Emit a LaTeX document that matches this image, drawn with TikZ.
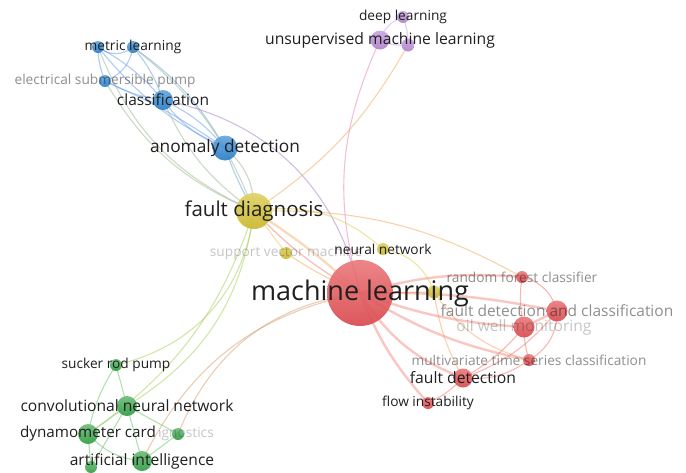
\documentclass[tikz,border=0pt]{standalone}
\usepackage{fontspec}
\setmainfont{Open Sans}
\pgfdeclarelayer{links}
\pgfsetlayers{links,main}
% cluster colours
\definecolor{vred}{RGB}{228,78,82}
\definecolor{vyel}{RGB}{212,193,48}
\definecolor{vblue}{RGB}{42,132,210}
\definecolor{vgreen}{RGB}{52,164,70}
\definecolor{vpurp}{RGB}{184,138,214}
% link colours (within and between clusters)
\definecolor{eRR}{RGB}{240,112,102}
\definecolor{eYY}{RGB}{222,204,70}
\definecolor{eBB}{RGB}{95,155,232}
\definecolor{eGG}{RGB}{100,195,100}
\definecolor{ePP}{RGB}{205,155,232}
\definecolor{eBY}{RGB}{150,182,140}
\definecolor{eRY}{RGB}{240,165,85}
\definecolor{eRP}{RGB}{240,125,185}
\definecolor{eRG}{RGB}{212,155,105}
\definecolor{eYG}{RGB}{165,205,85}
\definecolor{eBR}{RGB}{165,125,195}
\tikzset{
  ball/.style={circle,inner sep=0pt,draw=none,fill opacity=0.92},
  kred/.style={ball,top color=vred!75!white,bottom color=vred!95!black},
  kyel/.style={ball,top color=vyel!75!white,bottom color=vyel!95!black},
  kblue/.style={ball,top color=vblue!72!white,bottom color=vblue!95!black},
  kgreen/.style={ball,top color=vgreen!72!white,bottom color=vgreen!95!black},
  kpurp/.style={ball,top color=vpurp!75!white,bottom color=vpurp!95!black},
  fs/.style={font=\fontsize{#1}{#1}\selectfont},
  lab/.style={inner sep=0pt,text=black!88},
  dim/.style={lab,text opacity=0.5},
  faint/.style={lab,text opacity=0.26},
  link/.style={line width=1.1pt,draw opacity=0.5},
  heavy/.style={line width=2.4pt,draw opacity=0.4},
}
\begin{document}
\begin{tikzpicture}[x=1pt,y=-1pt]
\useasboundingbox (0,0) rectangle (686,472);

% ---- keyword circles ----
\node[kred,minimum size=66pt]  (ml)  at (360,293) {};
\node[kyel,minimum size=36pt]  (fd)  at (254,211) {};
\node[kblue,minimum size=25pt] (ad)  at (225,148) {};
\node[kblue,minimum size=20pt] (cl)  at (163,100) {};
\node[kblue,minimum size=12pt] (mr)  at (133,47) {};
\node[kblue,minimum size=12pt] (mlL) at (98,47) {};
\node[kblue,minimum size=12pt] (esp) at (105,81) {};
\node[kpurp,minimum size=19pt] (un)  at (380,40) {};
\node[kpurp,minimum size=12pt] (dl)  at (403,17) {};
\node[kpurp,minimum size=13pt] (p2)  at (408,45) {};
\node[kyel,minimum size=12pt]  (svm) at (286,253) {};
\node[kyel,minimum size=12pt]  (nn)  at (383,249) {};
\node[kyel,minimum size=13pt]  (yy)  at (434,292) {};
\node[kred,minimum size=12pt]  (rf)  at (522,277) {};
\node[kred,minimum size=21pt]  (fdc) at (557,311) {};
\node[kred,minimum size=21pt]  (ow)  at (524,327) {};
\node[kred,minimum size=12pt]  (mts) at (529,360) {};
\node[kred,minimum size=19pt]  (fdt) at (463,378) {};
\node[kred,minimum size=12pt]  (fi)  at (428,403) {};
\node[kgreen,minimum size=12pt] (srp) at (116,365) {};
\node[kgreen,minimum size=20pt] (cnn) at (127,406) {};
\node[kgreen,minimum size=20pt] (dc)  at (88,434) {};
\node[kgreen,minimum size=12pt] (dg)  at (178,434) {};
\node[kgreen,minimum size=20pt] (ai)  at (142,461) {};
\node[kgreen,minimum size=12pt] (g2)  at (91,467) {};

% ---- co-occurrence links ----
\begin{pgfonlayer}{links}
% blue cluster
\draw[link,eBB] (mlL.center) to[bend right=40] (mr.center);
\draw[link,eBB] (mlL.center) to[bend right=10] (esp.center);
\draw[link,eBB] (mlL.center) to[bend left=10] (cl.center);
\draw[link,eBB] (mlL.center) to[bend right=12] (ad.center);
\draw[link,eBB] (mr.center) to[bend left=30] (esp.center);
\draw[link,eBB] (mr.center) to[bend left=10] (cl.center);
\draw[link,eBB] (mr.center) to[bend left=12] (ad.center);
\draw[link,eBB] (esp.center) to[bend right=10] (cl.center);
\draw[link,eBB] (esp.center) to[bend left=5] (ad.center);
\draw[link,eBB] (cl.center) to[bend right=15] (ad.center);
\draw[link,eBB] (cl.center) to[bend left=12] (ad.center);
% blue to yellow
\draw[link,eBB] (ad.center) to[bend right=5] (fd.center);
\draw[link,eBY] (cl.center) to[bend right=15] (fd.center);
\draw[link,eBY] (mlL.center) to[bend right=22] (fd.center);
\draw[link,eBY] (mr.center) to[bend left=15] (fd.center);
\draw[link,eBY] (esp.center) to[bend right=18] (fd.center);
\draw[link,eBY] (ad.center) to[bend left=25] (fd.center);
% blue to red
\draw[link,eBR] (cl.center) to[bend left=33] (ml.center);
% purple cluster
\draw[link,ePP] (dl.center) to[bend right=25] (un.center);
\draw[link,ePP] (un.center) to[bend right=15] (p2.center);
\draw[link,ePP] (dl.center) to[bend left=10] (p2.center);
\draw[link,eRP] (un.center) to[bend right=20] (ml.center);
\draw[link,eRY] (p2.center) to[bend left=13] (fd.center);
% yellow cluster
\draw[heavy,eRY] (fd.center) to[bend left=5] (ml.center);
\draw[link,eRR] (fd.center) to[bend right=8] (ml.center);
\draw[link,eYY] (fd.center) to (svm.center);
\draw[link,eRY] (svm.center) to[bend right=5] (ml.center);
\draw[link,eYY] (fd.center) to[bend left=25] (nn.center);
\draw[link,eYY] (yy.center) to[bend right=30] (nn.center);
\draw[link,eRY] (fd.center) to[bend left=15] (rf.center);
\draw[link,eRY] (yy.center) to (ml.center);
\draw[link,eRY] (yy.center) to[bend right=20] (mts.center);
\draw[link,eRY] (yy.center) to[bend right=10] (fdt.center);
% red cluster
\draw[heavy,eRR] (ml.center) to[bend left=10] (rf.center);
\draw[heavy,eRR] (ml.center) to[bend left=6] (fdc.center);
\draw[heavy,eRR] (ml.center) to[bend right=8] (ow.center);
\draw[heavy,eRR] (ml.center) to[bend right=10] (mts.center);
\draw[heavy,eRR] (ml.center) to[bend right=18] (fdt.center);
\draw[heavy,eRR] (ml.center) to[bend right=10] (fi.center);
\draw[link,eRR] (rf.center) to[bend left=30] (fdc.center);
\draw[link,eRR] (rf.center) to[bend right=10] (ow.center);
\draw[heavy,eRR] (fdc.center) to (ow.center);
\draw[link,eRR] (ow.center) to[bend right=8] (mts.center);
\draw[link,eRR] (fdc.center) to[bend left=30] (mts.center);
\draw[link,eRR] (fdt.center) to[bend right=10] (ow.center);
\draw[link,eRR] (fdt.center) to[bend right=15] (fdc.center);
\draw[link,eRR] (fdt.center) to[bend right=20] (mts.center);
\draw[link,eRR] (fi.center) to[bend right=10] (fdt.center);
% green cluster
\draw[link,eGG] (srp.center) to (cnn.center);
\draw[link,eGG] (srp.center) to[bend right=10] (dc.center);
\draw[link,eGG] (cnn.center) to (dc.center);
\draw[link,eGG] (cnn.center) to (ai.center);
\draw[link,eGG] (cnn.center) to (g2.center);
\draw[link,eGG] (cnn.center) to (dg.center);
\draw[link,eGG] (dc.center) to[bend right=20] (ai.center);
\draw[link,eGG] (dc.center) to (g2.center);
\draw[link,eGG] (ai.center) to (dg.center);
% green to yellow and red
\draw[link,eYG] (fd.center) to[bend left=35] (srp.center);
\draw[link,eYG] (fd.center) to[bend left=25] (cnn.center);
\draw[link,eYG] (fd.center) to[bend left=18] (dc.center);
\draw[link,eRG] (ml.center) to[bend right=30] (dg.center);
\draw[link,eRG] (ml.center) to[bend right=26] (ai.center);
\end{pgfonlayer}

% ---- labels ----
\node[lab,fs=27]   (ml-t)  at (ml)  {machine learning};
\node[lab,fs=20.5] (fd-t)  at (fd)  {fault diagnosis};
\node[lab,fs=17.3] (ad-t)  at (ad)  {anomaly detection};
\node[lab,fs=15.5] (cl-t)  at (cl)  {classification};
\node[lab,fs=13.7] (mr-t)  at (mr)  {metric learning};
\node[dim,fs=13.7] (esp-t) at (esp) {electrical submersible pump};
\node[lab,fs=15.7] (un-t)  at (un)  {unsupervised machine learning};
\node[lab,fs=13.7] (dl-t)  at (dl)  {deep learning};
\node[faint,fs=13.7] (svm-t) at (svm) {support vector machine};
\node[lab,fs=13.7] (nn-t)  at (nn)  {neural network};
\node[dim,fs=13.7] (rf-t)  at (rf)  {random forest classifier};
\node[dim,fs=15.5] (fdc-t) at (fdc) {fault detection and classification};
\node[faint,fs=15.6] (ow-t) at (ow) {oil well monitoring};
\node[dim,fs=13.7] (mts-t) at (mts) {multivariate time series classification};
\node[lab,fs=15.7] (fdt-t) at (fdt) {fault detection};
\node[lab,fs=13.7] (fi-t)  at (fi)  {flow instability};
\node[lab,fs=13.7] (srp-t) at (srp) {sucker rod pump};
\node[lab,fs=15.6] (cnn-t) at (cnn) {convolutional neural network};
\begin{scope}
  \clip (159,415) rectangle (240,455);
  \node[faint,fs=13.7] (dg-t) at (dg) {diagnostics};
\end{scope}
\node[lab,fs=15.2] (dc-t)  at (dc)  {dynamometer card};
\node[lab,fs=15.6] (ai-t)  at (ai)  {artificial intelligence};
\end{tikzpicture}
\end{document}
